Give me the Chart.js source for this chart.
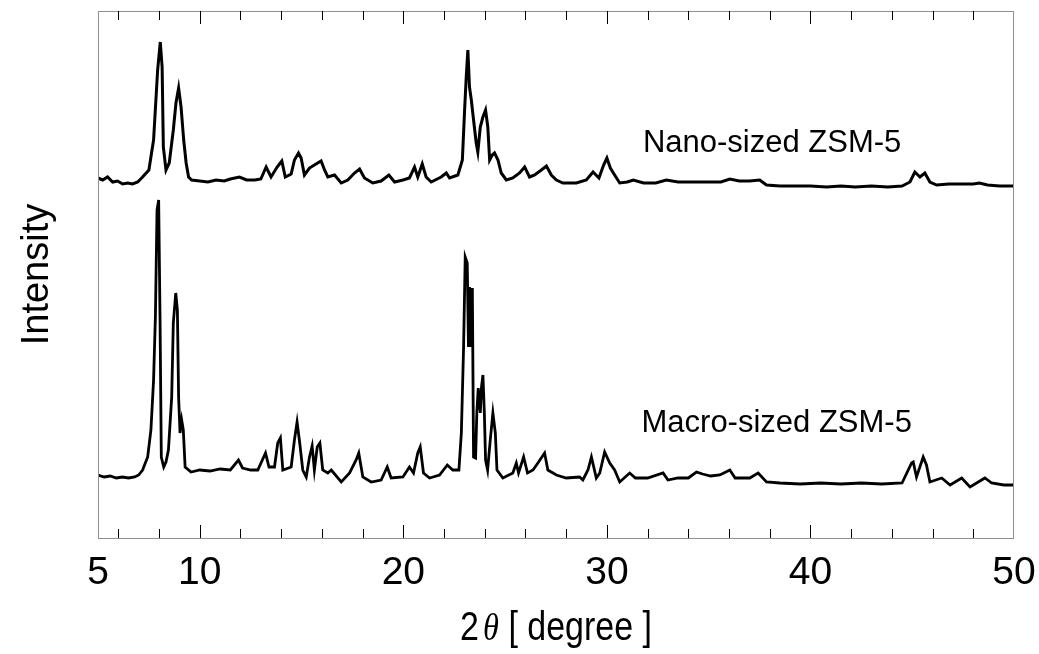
<!DOCTYPE html>
<html>
<head>
<meta charset="utf-8">
<script src="https://cdn.jsdelivr.net/npm/chart.js@4"></script>
<style>
  html, body { margin: 0; padding: 0; background: #fff; }
  #wrap { width: 1039px; height: 654px; }
</style>
</head>
<body>
<div id="wrap"><canvas id="xrdChart"></canvas></div>
<script>
/* ===============================
   Data
=============================== */

const twoThetaNano = [5.0, 5.23, 5.47, 5.72, 5.96, 6.21, 6.46, 6.7, 6.95, 7.19, 7.5,
    7.73, 7.93, 8.06, 8.15, 8.21, 8.34, 8.5, 8.7, 8.83, 8.96,
    9.08, 9.21, 9.33, 9.45, 9.6, 10.0, 10.4, 10.8, 11.2, 11.5,
    11.95, 12.3, 12.7, 13.0, 13.26, 13.5, 13.8, 14.03, 14.2, 14.49,
    14.65, 14.85, 14.98, 15.14, 15.39, 15.63, 15.96, 16.13, 16.29, 16.62,
    16.95, 17.27, 17.6, 17.85, 18.09, 18.5, 18.91, 19.29, 19.57, 19.98,
    20.3, 20.55, 20.71, 20.93, 21.12, 21.37, 21.86, 22.11, 22.27, 22.68,
    22.9, 23.01, 23.09, 23.17, 23.25, 23.34, 23.45, 23.58, 23.66, 23.78,
    23.91, 24.04, 24.15, 24.24, 24.37, 24.48, 24.65, 24.81, 25.06, 25.38,
    25.71, 25.96, 26.2, 26.45, 26.78, 27.03, 27.27, 27.52, 27.84, 28.5,
    28.99, 29.32, 29.61, 29.84, 30.0, 30.17, 30.38, 30.63, 31.0, 31.3,
    31.8, 32.4, 32.92, 33.5, 34.2, 35.0, 35.6, 36.04, 36.5, 37.0,
    37.51, 37.84, 38.5, 39.2, 40.0, 40.8, 41.5, 42.2, 43.0, 43.8,
    44.5, 44.89, 45.13, 45.38, 45.62, 45.87, 46.2, 46.8, 47.4, 48.0,
    48.3, 48.7, 49.3, 50.0];

const intensityNano = [360, 358, 361, 356, 357, 354, 355, 354, 356, 361, 368,
    398, 468, 496, 471, 391, 368, 375, 408, 435, 450,
    431, 398, 375, 361, 358, 357, 356, 358, 357, 359,
    361, 358, 358, 359, 371, 361, 371, 377, 361, 364,
    378, 385, 380, 363, 370, 373, 377, 368, 361, 363,
    355, 358, 365, 369, 360, 355, 357, 363, 356, 358,
    360, 371, 361, 374, 361, 356, 361, 365, 360, 363,
    378, 428, 461, 488, 451, 438, 418, 395, 386, 411,
    421, 428, 411, 378, 383, 385, 378, 365, 358, 360,
    365, 371, 361, 363, 368, 372, 363, 358, 355, 355,
    358, 366, 360, 373, 380, 370, 363, 355, 356, 358,
    355, 355, 358, 356, 356, 356, 356, 359, 357, 357,
    358, 353, 352, 352, 352, 351, 352, 351, 352, 351,
    352, 356, 366, 361, 365, 356, 353, 354, 354, 354,
    355, 353, 352, 352];

const twoThetaMacro = [5.0, 5.3, 5.6, 5.9, 6.2, 6.5, 6.8, 7.0, 7.19, 7.44,
    7.6, 7.73, 7.82, 7.9, 7.98, 8.05, 8.11, 8.23, 8.34, 8.46,
    8.62, 8.7, 8.82, 8.9, 8.96, 9.03, 9.11, 9.19, 9.28, 9.57,
    10.0, 10.5, 11.0, 11.5, 11.9, 12.1, 12.5, 12.85, 13.23, 13.4,
    13.67, 13.83, 13.96, 14.08, 14.49, 14.65, 14.78, 14.91, 15.06, 15.23,
    15.39, 15.52, 15.63, 15.77, 15.9, 16.04, 16.29, 16.46, 16.95, 17.36,
    17.68, 17.81, 18.01, 18.42, 18.91, 19.21, 19.4, 19.98, 20.3, 20.5,
    20.71, 20.83, 20.99, 21.29, 21.78, 22.16, 22.43, 22.73, 22.85, 22.96,
    23.04, 23.14, 23.2, 23.25, 23.32, 23.39, 23.45, 23.55, 23.61, 23.68,
    23.78, 23.84, 23.91, 23.98, 24.04, 24.14, 24.27, 24.4, 24.52, 24.6,
    24.89, 25.38, 25.55, 25.66, 25.91, 26.1, 26.37, 26.61, 26.94, 27.1,
    27.52, 28.0, 28.66, 28.82, 29.07, 29.24, 29.48, 29.65, 29.89, 30.14,
    30.38, 30.63, 31.12, 31.4, 32.0, 32.76, 33.0, 33.5, 34.0, 34.4,
    34.7, 35.1, 35.55, 36.04, 36.3, 37.02, 37.43, 37.84, 38.5, 39.5,
    40.5, 41.5, 42.5, 43.5, 44.5, 44.97, 45.05, 45.21, 45.54, 45.7,
    45.87, 46.45, 46.86, 47.43, 47.84, 48.57, 48.9, 49.5, 50.0];

const intensityMacro = [63, 61, 62, 60, 61, 60, 61, 63, 68, 81,
    108, 158, 221, 328, 338, 215, 81, 71, 76, 88,
    141, 215, 245, 228, 141, 105, 118, 108, 71, 66,
    68, 67, 69, 68, 78, 70, 68, 68, 85, 71,
    71, 95, 100, 68, 71, 98, 116, 95, 68, 61,
    81, 92, 68, 91, 95, 68, 65, 68, 56, 65,
    78, 85, 61, 56, 58, 71, 60, 61, 71, 65,
    85, 91, 65, 60, 63, 73, 68, 68, 105, 191,
    281, 275, 191, 251, 191, 250, 81, 80, 125, 150,
    125, 151, 163, 125, 78, 68, 98, 125, 105, 68,
    60, 65, 75, 65, 81, 65, 68, 75, 85, 68,
    63, 60, 61, 58, 68, 81, 60, 65, 86, 75,
    68, 56, 65, 60, 60, 65, 58, 60, 60, 66,
    64, 62, 63, 68, 60, 60, 65, 56, 55, 54,
    55, 54, 55, 54, 55, 75, 76, 61, 81, 73,
    56, 60, 53, 60, 51, 60, 55, 53, 53];

const seriesNames = ["Nano-sized ZSM-5", "Macro-sized ZSM-5"];

const xTickValues = [5, 6, 8, 10, 12, 14, 16, 18, 20, 22, 24, 26, 28, 30,
    32, 34, 36, 38, 40, 42, 44, 46, 48, 50];
const xTickLabels = ["5", "10", "20", "30", "40", "50"];

/* ===============================
   Frame, inward ticks and text
=============================== */

const sans = "'Liberation Sans', Arial, sans-serif";

const framePlugin = {
    id: "frame",
    afterDatasetsDraw(chart) {
        const { ctx, chartArea: a, scales: { x, y } } = chart;
        ctx.save();

        // grey box
        ctx.strokeStyle = "#8f8f8f";
        ctx.lineWidth = 1;
        ctx.strokeRect(Math.round(a.left) + 0.5, Math.round(a.top) + 0.5,
            Math.round(a.width) - 1, Math.round(a.height));

        // inward ticks top and bottom
        ctx.strokeStyle = "#000";
        x.ticks.forEach(t => {
            if (t.value <= x.min || t.value >= x.max) return;
            const px = Math.round(x.getPixelForValue(t.value)) + 0.5;
            const len = t.value % 10 === 0 ? 13 : 9;
            ctx.beginPath();
            ctx.moveTo(px, a.bottom);
            ctx.lineTo(px, a.bottom - len);
            ctx.moveTo(px, a.top);
            ctx.lineTo(px, a.top + len);
            ctx.stroke();
        });

        // series names
        ctx.fillStyle = "#000";
        ctx.font = "31px " + sans;
        ctx.textBaseline = "alphabetic";
        ctx.textAlign = "left";
        ctx.fillText(seriesNames[0], x.getPixelForValue(31.77), y.getPixelForValue(386));
        ctx.fillText(seriesNames[1], x.getPixelForValue(31.7), y.getPixelForValue(106));

        // x axis title: 2θ [ degree ]  (condensed face)
        const squeeze = 0.85;
        const parts = [
            { t: "2", f: "40px " + sans, gap: 5 },
            { t: "\u03B8", f: "italic 38px 'Liberation Serif', serif", gap: 0 },
            { t: " [ degree ]", f: "40px " + sans, gap: 0 }
        ];
        let total = 0;
        parts.forEach(p => { ctx.font = p.f; p.w = ctx.measureText(p.t).width; total += p.w + p.gap; });
        ctx.translate((a.left + a.right) / 2 - total * squeeze / 2, 640);
        ctx.scale(squeeze, 1);
        let cx = 0;
        parts.forEach(p => {
            ctx.font = p.f;
            ctx.fillText(p.t, cx, 0);
            cx += p.w + p.gap;
        });

        ctx.restore();
    }
};

/* ===============================
   Chart
=============================== */

const xrdCtx = document.getElementById("xrdChart");

new Chart(xrdCtx, {
    type: "line",
    data: {
        datasets: [{
            label: seriesNames[0],
            data: twoThetaNano.map((v, i) => ({ x: v, y: intensityNano[i] })),
            borderColor: "#000",
            borderWidth: 3,
            pointRadius: 0,
            tension: 0
        }, {
            label: seriesNames[1],
            data: twoThetaMacro.map((v, i) => ({ x: v, y: intensityMacro[i] })),
            borderColor: "#000",
            borderWidth: 2.8,
            pointRadius: 0,
            tension: 0
        }]
    },
    options: {
        responsive: true,
        maintainAspectRatio: false,
        animation: false,
        layout: {
            padding: { top: 11, right: 25, left: 0, bottom: 0 }
        },
        plugins: {
            legend: { display: false },
            tooltip: { enabled: false }
        },
        scales: {
            x: {
                type: "linear",
                min: 5,
                max: 50,
                afterBuildTicks: scale => {
                    scale.ticks = xTickValues.map(v => ({ value: v }));
                },
                afterFit: scale => {
                    scale.height = 116;
                    scale.paddingLeft = 0;
                    scale.paddingRight = 0;
                },
                grid: { display: false, drawTicks: false },
                border: { display: false },
                ticks: {
                    autoSkip: false,
                    maxRotation: 0,
                    padding: 12,
                    color: "#000",
                    font: { family: sans, size: 39 },
                    callback: v => xTickLabels.includes(String(v)) ? String(v) : ""
                }
            },
            y: {
                min: 0,
                max: 527,
                afterFit: scale => { scale.width = 98; },
                grid: { display: false, drawTicks: false },
                border: { display: false },
                ticks: { display: false },
                title: {
                    display: true,
                    text: "Intensity",
                    color: "#000",
                    font: { family: sans, size: 38 },
                    padding: { top: 15, bottom: 0 }
                }
            }
        }
    },
    plugins: [framePlugin]
});
</script>
</body>
</html>
